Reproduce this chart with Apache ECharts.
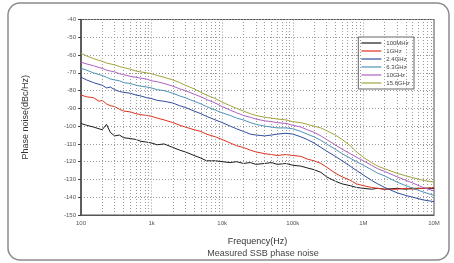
<!DOCTYPE html>
<html>
<head>
<meta charset="utf-8">
<script src="https://cdn.jsdelivr.net/npm/echarts@6/dist/echarts.min.js"></script>
<style>
  html, body { margin: 0; padding: 0; background: #fff; }
  #chart { width: 454px; height: 263px; }
</style>
</head>
<body>
<div id="chart"></div>
<script>
// 频率点 (Hz)
const freqs = [100, 120, 150, 180, 200, 230, 260, 300, 350, 400, 500, 600, 700, 850,
  1000, 1200, 1500, 2000, 2500, 3000, 4000, 5000, 6000, 8000,
  10000, 13000, 16000, 20000, 25000, 30000, 40000, 50000, 60000, 80000,
  100000, 130000, 160000, 200000, 250000, 300000, 400000, 500000, 650000, 800000,
  1000000, 1300000, 1600000, 2000000, 3000000, 4000000, 5000000, 7000000, 10000000];

// 各载波的相位噪声 (dBc/Hz)
const noise100M = [-98.5, -99.5, -100.5, -101.5, -102, -99, -103.5, -105.5, -105, -106.5, -107, -107.5, -108.5, -109,
  -109.5, -110.5, -110, -112, -113.5, -114.5, -116.5, -118, -119.5, -119.5,
  -120, -120.5, -120, -121, -120.5, -121.5, -121, -120.5, -121.5, -121,
  -122, -122.5, -123.5, -124.5, -126, -128.5, -131, -132.5, -133.5, -134.5,
  -135, -135.5, -135, -135.5, -135, -135.5, -135, -135, -135];
const noise1G = [-82.5, -83.5, -84, -86, -85.5, -87.5, -88.5, -89, -90.5, -91.5, -92, -93, -93.5, -94,
  -94.5, -95.5, -96.5, -98, -99.5, -100.5, -102, -103, -104.5, -106,
  -107.5, -109.5, -111, -112, -113.5, -114.5, -115.5, -116, -116.5, -116,
  -116.5, -117, -118.5, -119.5, -121, -123, -126.5, -128.5, -130.5, -132.5,
  -133.5, -134.5, -135, -135.5, -135.5, -135, -135.5, -135, -134.5];
const noise2G4 = [-72.5, -74, -75.5, -76.5, -77, -78.5, -78, -79.5, -80.5, -81, -81.5, -82.5, -83, -84,
  -84.5, -85.5, -86, -87, -88.5, -89.5, -91.5, -93, -94.5, -96.5,
  -98, -100, -101.5, -103, -104.5, -105, -105.5, -105, -104.5, -104,
  -104.5, -106, -107.5, -109.5, -112, -114, -117, -119.5, -122.5, -125,
  -127.5, -130.5, -132.5, -134.5, -137.5, -139, -140, -141.5, -142.5];
const noise6G3 = [-67.5, -68.5, -70, -71, -71.5, -72.5, -73.5, -74, -74.5, -75.5, -76, -77, -77.5, -78,
  -78.5, -79.5, -80, -81.5, -83, -84, -86, -87.5, -89, -91,
  -92.5, -94, -95.5, -96.5, -98, -99, -100, -100.5, -101, -101,
  -101.5, -103, -104.5, -106, -108, -110, -113, -115.5, -118, -120,
  -122, -124.5, -126.5, -128, -131.5, -133.5, -135, -137, -139];
const noise10G = [-64, -65, -66, -67, -67.5, -68.5, -69, -69.5, -70.5, -71, -72, -72.5, -73, -73.5,
  -74.5, -75, -76, -77.5, -79, -80, -82, -83.5, -85, -87,
  -89, -91, -92.5, -94, -95, -96, -97, -97.5, -98, -98.5,
  -99.5, -100.5, -102, -103.5, -105.5, -107.5, -110.5, -113, -115.5, -117.5,
  -119.5, -122, -124, -125.5, -128.5, -130.5, -132, -134.5, -136.5];
const noise15G6 = [-59, -60.5, -62, -63, -63.5, -64.5, -65, -65.5, -66.5, -67, -68, -69, -69.5, -70,
  -70.5, -71.5, -72.5, -74, -75.5, -77, -79, -81, -82.5, -84.5,
  -86.5, -88.5, -90, -91.5, -93, -94, -95, -95.5, -96, -96.5,
  -97.5, -98, -99, -100, -101, -102.5, -105, -107.5, -111, -114.5,
  -117.5, -120.5, -122.5, -124, -126.5, -128, -129, -130.5, -131.5];

const seriesNames = ['100MHz', '1GHz', '2.4GHz', '6.3GHz', '10GHz', '15.6GHz'];
const seriesData = [noise100M, noise1G, noise2G4, noise6G3, noise10G, noise15G6];
const seriesColors = ['#1a1a1a', '#e0301e', '#2f4f9c', '#4f93b8', '#b060c0', '#a3a33c'];

// 坐标轴刻度标签
const xTickValues = [100, 1000, 10000, 100000, 1000000, 10000000];
const xTickLabels = ['100', '1k', '10k', '100k', '1M', '10M'];
// 十倍频程内的次网格线
const minorGrid = [200, 300, 400, 500, 600, 700, 800, 900,
  2000, 3000, 4000, 5000, 6000, 7000, 8000, 9000,
  20000, 30000, 40000, 50000, 60000, 70000, 80000, 90000,
  200000, 300000, 400000, 500000, 600000, 700000, 800000, 900000,
  2000000, 3000000, 4000000, 5000000, 6000000, 7000000, 8000000, 9000000];

const font = 'Liberation Sans, Arial, sans-serif';
const gridColor = '#9a9a9a';

// 组装 [x, y] 数据
function pairs(ys) {
  return freqs.map((f, i) => [f, ys[i]]);
}

function buildOption() {
  let series = seriesNames.map((name, k) => ({
    name: name,
    type: 'line',
    symbol: 'none',
    smooth: false,
    data: pairs(seriesData[k]),
    lineStyle: { width: 1, color: seriesColors[k] },
    itemStyle: { color: seriesColors[k] },
    z: 3 + k
  }));
  // 次网格线 (虚线)
  series.push({
    name: 'minor',
    type: 'line',
    data: [],
    silent: true,
    markLine: {
      silent: true,
      symbol: 'none',
      label: { show: false },
      lineStyle: { color: gridColor, type: [1, 2], width: 1 },
      data: minorGrid.map(v => ({ xAxis: v }))
    },
    z: 1
  });

  return {
    animation: false,
    backgroundColor: '#fff',
    textStyle: { fontFamily: font },
    graphic: [{
      type: 'rect',
      z: -10,
      shape: { x: 8, y: 3, width: 441, height: 257, r: 12 },
      style: { fill: 'none', stroke: '#8a8a8a', lineWidth: 1.5 }
    }],
    title: {
      text: 'Measured SSB phase noise',
      left: 258,
      textAlign: 'center',
      top: 244,
      textStyle: { fontSize: 9, fontWeight: 'normal', color: '#444', fontFamily: font }
    },
    grid: { left: 81, right: 20, top: 19.5, bottom: 48, show: true, borderColor: '#555', borderWidth: 1 },
    legend: {
      data: seriesNames,
      orient: 'vertical',
      right: 40,
      top: 37,
      icon: 'rect',
      itemWidth: 20,
      itemHeight: 1.2,
      itemGap: 2,
      padding: [3, 4, 3, 3],
      borderColor: '#666',
      borderWidth: 1,
      backgroundColor: '#fff',
      textStyle: { fontSize: 6, color: '#444', fontFamily: font }
    },
    xAxis: {
      type: 'log',
      logBase: 10,
      min: 100,
      max: 10000000,
      name: 'Frequency(Hz)',
      nameLocation: 'middle',
      nameGap: 22,
      nameTextStyle: { fontSize: 9, color: '#333', fontFamily: font },
      axisLine: { show: true, onZero: false, lineStyle: { color: '#555' } },
      axisTick: { show: false },
      axisLabel: {
        fontSize: 6,
        color: '#555',
        margin: 5,
        formatter: function (v) {
          let i = xTickValues.indexOf(Math.round(v));
          return i >= 0 ? xTickLabels[i] : '';
        }
      },
      splitLine: { show: true, lineStyle: { color: gridColor, type: [1, 2] } }
    },
    yAxis: {
      type: 'value',
      min: -150,
      max: -40,
      interval: 10,
      name: 'Phase noise(dBc/Hz)',
      nameLocation: 'middle',
      nameGap: 51,
      nameTextStyle: { fontSize: 9, color: '#333', fontFamily: font },
      axisLine: { show: true, lineStyle: { color: '#444', width: 1.5 } },
      axisTick: { show: true, length: 3, lineStyle: { color: '#444' } },
      axisLabel: { fontSize: 6, color: '#555', margin: 5 },
      splitLine: { show: true, lineStyle: { color: gridColor, type: [1, 2] } }
    },
    series: series
  };
}

const chart = echarts.init(document.getElementById('chart'), null, { renderer: 'canvas' });
chart.setOption(buildOption());
</script>
</body>
</html>
